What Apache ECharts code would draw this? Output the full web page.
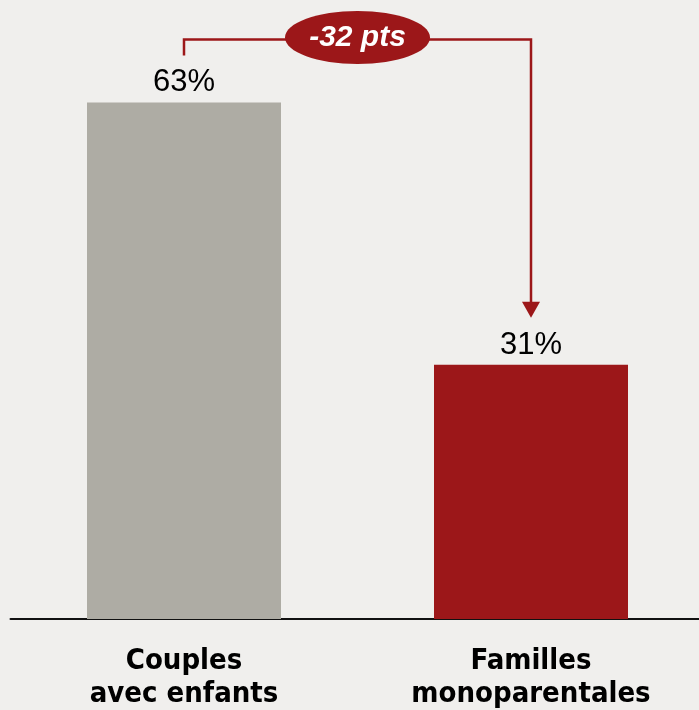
<!DOCTYPE html>
<html><head><meta charset="utf-8">
<script src="https://cdn.jsdelivr.net/npm/echarts@6/dist/echarts.min.js"></script>
<style>html,body{margin:0;padding:0;background:#f0efed;overflow:hidden;}#c{width:699px;height:710px;}</style>
</head><body><div id="c"></div>
<script>
const categories = ['Couples\navec enfants', 'Familles\nmonoparentales'];
const values = [63, 31];
const barColors = ['#aeaca4', '#9c1719'];
const diffLabel = '-32 pts';

const chart = echarts.init(document.getElementById('c'));
const font = '"Liberation Sans", Arial, sans-serif';
chart.setOption({
  backgroundColor: '#f0efed',
  animation: false,
  grid: { left: 10.5, right: -5.5, top: 4, bottom: 91, outerBoundsMode: 'none', containLabel: false },
  xAxis: {
    type: 'category', data: categories,
    axisLine: { lineStyle: { color: '#111', width: 2 } },
    axisTick: { show: false },
    axisLabel: { fontFamily: '"Liberation Sans Narrow", "DejaVu Sans Condensed", Arial, sans-serif', fontWeight: 'bold', fontSize: 29, lineHeight: 33, color: '#000', margin: 26 }
  },
  yAxis: { type: 'value', min: 0, max: 75, show: false, splitLine: { show: false } },
  series: [{
    type: 'bar', barWidth: 194,
    data: values.map((v, i) => ({ value: v, itemStyle: { color: barColors[i] } })),
    label: { show: true, position: 'top', distance: 4, formatter: '{c}%', fontFamily: font, fontSize: 31, color: '#000' }
  }]
});

const p1 = chart.convertToPixel({ gridIndex: 0 }, [0, values[0]]);
const p2 = chart.convertToPixel({ gridIndex: 0 }, [1, values[1]]);
const red = '#9c1719';
const yTop = p1[1] - 63;
const yLeftEnd = p1[1] - 47;
const yTip = p2[1] - 47;
const cx = (p1[0] + p2[0]) / 2;
chart.setOption({
  graphic: [
    { type: 'polyline', shape: { points: [[p1[0], yLeftEnd], [p1[0], yTop], [p2[0], yTop], [p2[0], yTip - 14]] }, style: { stroke: red, lineWidth: 2.5, fill: null } },
    { type: 'polygon', shape: { points: [[p2[0] - 9, yTip - 16], [p2[0] + 9, yTip - 16], [p2[0], yTip]] }, style: { fill: red } },
    { type: 'ellipse', shape: { cx: cx, cy: yTop - 2, rx: 72.5, ry: 26.5 }, style: { fill: red } },
    { type: 'text', x: cx, y: yTop - 2, style: { text: diffLabel, fill: '#fff', font: 'italic bold 30px "Liberation Sans", Arial, sans-serif', align: 'center', verticalAlign: 'middle' } }
  ]
});
</script></body></html>
